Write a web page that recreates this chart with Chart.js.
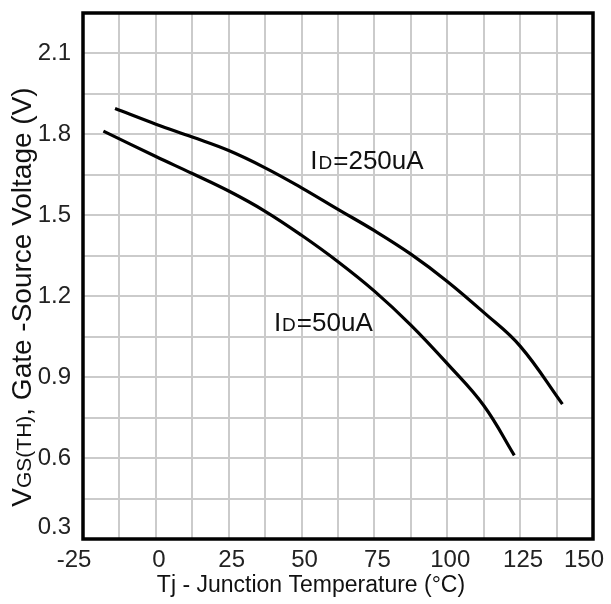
<!DOCTYPE html>
<html>
<head>
<meta charset="utf-8">
<script src="https://cdn.jsdelivr.net/npm/chart.js@4.4.0/dist/chart.umd.min.js"></script>
<style>
  html, body { margin: 0; padding: 0; background: #fff; }
  #wrap { width: 611px; height: 604px; position: relative; }
</style>
</head>
<body>
<div id="wrap"><canvas id="c" width="611" height="604"></canvas></div>
<script>
// ---- data ----
const temps250 = [-14, 0, 12.5, 25, 37.5, 50, 62.5, 75, 87.5, 100, 112.5, 125, 139.5];
const vgs250   = [1.896, 1.838, 1.79, 1.74, 1.676, 1.602, 1.522, 1.443, 1.356, 1.255, 1.14, 1.015, 0.80];
const temps50  = [-18, 0, 12.5, 25, 37.5, 50, 62.5, 75, 87.5, 100, 112.5, 123];
const vgs50    = [1.812, 1.718, 1.655, 1.59, 1.515, 1.426, 1.328, 1.219, 1.093, 0.95, 0.795, 0.61];
const xTickLabels = [-25, 0, 25, 50, 75, 100, 125, 150];
const yTickLabels = [0.3, 0.6, 0.9, 1.2, 1.5, 1.8, 2.1];
const seriesNames = ['250uA', '50uA'];
const labelPos = [{ t: 53, v: 1.71 }, { t: 40.5, v: 1.11 }];
const xTitle = 'Tj - Junction Temperature (°C)';
const yTitleParts = ['V', 'GS(TH)', ', Gate -Source Voltage (V)'];

const FONT = '"Liberation Sans", Arial, sans-serif';

function pts(xs, ys) { return xs.map((x, i) => ({ x: x, y: ys[i] })); }

const overlay = {
  id: 'overlay',
  afterDraw(chart) {
    const ctx = chart.ctx;
    const a = chart.chartArea;
    const xs = chart.scales.x, ys = chart.scales.y;
    ctx.save();
    // frame
    ctx.strokeStyle = '#000';
    ctx.lineWidth = 3.5;
    ctx.strokeRect(a.left, a.top, a.right - a.left, a.bottom - a.top);

    // x tick labels
    ctx.fillStyle = '#222';
    ctx.font = '24px ' + FONT;
    ctx.textAlign = 'center';
    ctx.textBaseline = 'middle';
    xTickLabels.forEach((v, i) => {
      const edge = (i === 0 || i === xTickLabels.length - 1);
      ctx.fillText(String(v), xs.getPixelForValue(v) + (edge ? -9 : 3), a.bottom + 21);
    });
    // y tick labels
    ctx.textAlign = 'right';
    yTickLabels.forEach((v, i) => {
      const y = ys.getPixelForValue(v) - (i === 0 ? 12 : 0);
      ctx.fillText(v.toFixed(1), a.left - 12, y);
    });

    // x title
    ctx.textAlign = 'center';
    ctx.fillStyle = '#111';
    ctx.font = '23px ' + FONT;
    ctx.fillText(xTitle, 311, a.bottom + 47);

    // curve labels  I(D)=...
    ctx.textAlign = 'left';
    ctx.textBaseline = 'alphabetic';
    seriesNames.forEach((nm, i) => {
      let x = xs.getPixelForValue(labelPos[i].t);
      const y = ys.getPixelForValue(labelPos[i].v) + 10;
      ctx.font = '26px ' + FONT;
      ctx.fillText('I', x, y); x += ctx.measureText('I').width + 1;
      ctx.font = '19px ' + FONT;
      ctx.fillText('D', x, y); x += ctx.measureText('D').width + 1;
      ctx.font = '26px ' + FONT;
      ctx.fillText('=' + nm, x, y);
    });

    // y axis title with subscript
    ctx.translate(31, 297);
    ctx.rotate(-Math.PI / 2);
    const sizes = [28, 21, 28];
    let total = 0;
    yTitleParts.forEach((p, i) => { ctx.font = sizes[i] + 'px ' + FONT; total += ctx.measureText(p).width; });
    let px = -total / 2;
    yTitleParts.forEach((p, i) => {
      ctx.font = sizes[i] + 'px ' + FONT;
      ctx.fillText(p, px, 0);
      px += ctx.measureText(p).width;
    });
    ctx.restore();
  }
};

new Chart(document.getElementById('c'), {
  type: 'scatter',
  data: {
    datasets: [
      { label: 'ID=250uA', data: pts(temps250, vgs250), showLine: true, borderColor: '#000',
        borderWidth: 3.2, pointRadius: 0, tension: 0.4, fill: false },
      { label: 'ID=50uA', data: pts(temps50, vgs50), showLine: true, borderColor: '#000',
        borderWidth: 3.2, pointRadius: 0, tension: 0.4, fill: false }
    ]
  },
  options: {
    responsive: false,
    animation: false,
    devicePixelRatio: 1,
    layout: { padding: { top: 13, right: 18, left: 0, bottom: 0 } },
    plugins: { legend: { display: false }, tooltip: { enabled: false } },
    scales: {
      x: {
        type: 'linear', min: -25, max: 150,
        afterBuildTicks(s) { s.ticks = []; for (let v = -25; v <= 150; v += 12.5) s.ticks.push({ value: v }); },
        afterFit(s) { s.height = 65; s.paddingLeft = 0; s.paddingRight = 0; },
        grid: { color: '#cbcbcb', lineWidth: 2, drawTicks: false },
        border: { display: false },
        ticks: { display: false }
      },
      y: {
        type: 'linear', min: 0.3, max: 2.25,
        afterBuildTicks(s) { s.ticks = []; for (let i = 0; i <= 13; i++) s.ticks.push({ value: +(0.3 + i * 0.15).toFixed(2) }); },
        afterFit(s) { s.width = 83; s.paddingTop = 0; s.paddingBottom = 0; },
        grid: { color: '#cbcbcb', lineWidth: 2, drawTicks: false },
        border: { display: false },
        ticks: { display: false }
      }
    }
  },
  plugins: [overlay]
});
</script>
</body>
</html>
